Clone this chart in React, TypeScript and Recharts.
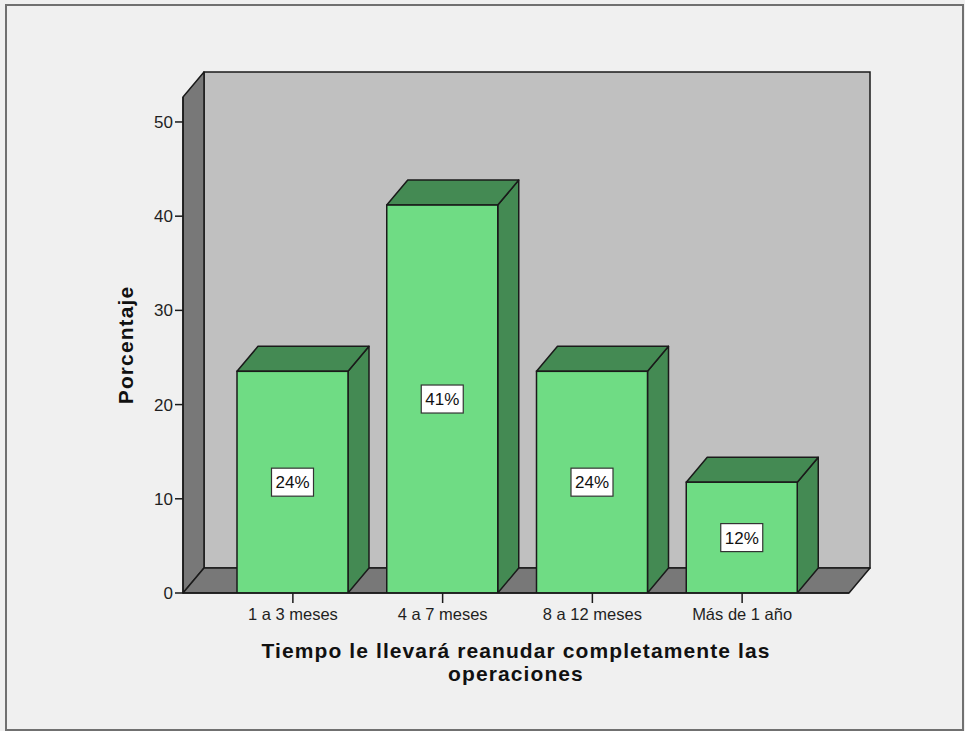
import { Bar, BarChart, LabelList, XAxis, YAxis, usePlotArea } from "recharts";

const categories = ["1 a 3 meses", "4 a 7 meses", "8 a 12 meses", "Más de 1 año"];
const percents = [23.53, 41.18, 23.53, 11.76];
const yTicks = [0, 10, 20, 30, 40, 50];
const xTitle = ["Tiempo le llevará reanudar completamente las", "operaciones"];
const yTitle = "Porcentaje";

const data = categories.map((name, i) => ({ name, value: percents[i] }));

// depth of the 3D box (px)
const DX = 21;
const DY = 25;
const FONT = '"Liberation Sans", Arial, sans-serif';
const EDGE = "#1a1a1a";

function Room() {
  const area = usePlotArea();
  if (!area) return null;
  const { x, y, width, height } = area;
  const r = x + width;
  const b = y + height;
  const cx = x + width / 2;
  return (
    <g>
      <rect x={x + DX} y={y - DY} width={width} height={height} fill="#c0c0c0" stroke={EDGE} strokeWidth={1.5} />
      <polygon
        points={`${x},${y} ${x + DX},${y - DY} ${x + DX},${b - DY} ${x},${b}`}
        fill="#787878"
        stroke={EDGE}
        strokeWidth={1.5}
        strokeLinejoin="round"
      />
      <polygon
        points={`${x},${b} ${r},${b} ${r + DX},${b - DY} ${x + DX},${b - DY}`}
        fill="#787878"
        stroke={EDGE}
        strokeWidth={1.5}
        strokeLinejoin="round"
      />
      <text
        x={cx}
        y={b + 65}
        textAnchor="middle"
        fontFamily={FONT}
        fontSize={21}
        fontWeight="bold"
        letterSpacing={1.1}
        fill="#111"
      >
        {xTitle[0]}
      </text>
      <text
        x={cx}
        y={b + 88}
        textAnchor="middle"
        fontFamily={FONT}
        fontSize={21}
        fontWeight="bold"
        letterSpacing={1.1}
        fill="#111"
      >
        {xTitle[1]}
      </text>
      <text
        x={x - 50}
        y={y + height / 2}
        transform={`rotate(-90 ${x - 50} ${y + height / 2})`}
        textAnchor="middle"
        fontFamily={FONT}
        fontSize={21}
        fontWeight="bold"
        letterSpacing={1.1}
        fill="#111"
      >
        {yTitle}
      </text>
    </g>
  );
}

function Prism(props: any) {
  const { x, y, width: w, height: h } = props;
  if (!h) return null;
  const side = `${x + w},${y} ${x + w + DX},${y - DY} ${x + w + DX},${y + h - DY} ${x + w},${y + h}`;
  const top = `${x},${y} ${x + DX},${y - DY} ${x + w + DX},${y - DY} ${x + w},${y}`;
  return (
    <g>
      <polygon points={side} fill="#448a53" stroke={EDGE} strokeWidth={1.5} strokeLinejoin="round" />
      <polygon points={top} fill="#448a53" stroke={EDGE} strokeWidth={1.5} strokeLinejoin="round" />
      <rect x={x} y={y} width={w} height={h} fill="#6fdc84" stroke={EDGE} strokeWidth={1.5} />
    </g>
  );
}

function ValueBox(props: any) {
  const { x, y, width, height, value } = props;
  const cx = x + width / 2;
  const cy = y + height / 2;
  return (
    <g>
      <rect x={cx - 21} y={cy - 14} width={42} height={28} fill="#fff" stroke="#333" strokeWidth={1.2} />
      <text x={cx} y={cy + 6} textAnchor="middle" fontFamily={FONT} fontSize={17} fill="#111">
        {`${Math.round(value)}%`}
      </text>
    </g>
  );
}

export default function App() {
  return (
    <div style={{ position: "absolute", left: 0, top: 0, width: 965, height: 731, background: "#f0f0f0" }}>
      <div
        style={{
          position: "absolute",
          left: 5,
          top: 4,
          width: 959,
          height: 727,
          boxSizing: "border-box",
          border: "2px solid #707070"
        }}
      />
      <div style={{ position: "absolute", left: 0, top: 0 }}>
        <BarChart
          width={965}
          height={731}
          data={data}
          margin={{ top: 97, right: 116, bottom: 98, left: 123 }}
        >
          <Room />
          <XAxis
            dataKey="name"
            height={40}
            padding={{ left: 35, right: 32 }}
            axisLine={{ stroke: EDGE, strokeWidth: 1.5 }}
            tickLine={{ stroke: EDGE, strokeWidth: 1.5 }}
            tickSize={10}
            tickMargin={5}
            tick={{ fontSize: 16.5, fontFamily: FONT, fill: "#1f1f1f" }}
          />
          <YAxis
            width={60}
            domain={[0, 52.65]}
            ticks={yTicks}
            allowDataOverflow
            axisLine={{ stroke: EDGE, strokeWidth: 1.5 }}
            tickLine={{ stroke: EDGE, strokeWidth: 1.5 }}
            tickSize={8}
            tickMargin={2}
            tick={{ fontSize: 17, fontFamily: FONT, fill: "#1f1f1f" }}
          />
          <Bar dataKey="value" barSize={111} shape={Prism} isAnimationActive={false}>
            <LabelList dataKey="value" content={ValueBox} />
          </Bar>
        </BarChart>
      </div>
    </div>
  );
}
